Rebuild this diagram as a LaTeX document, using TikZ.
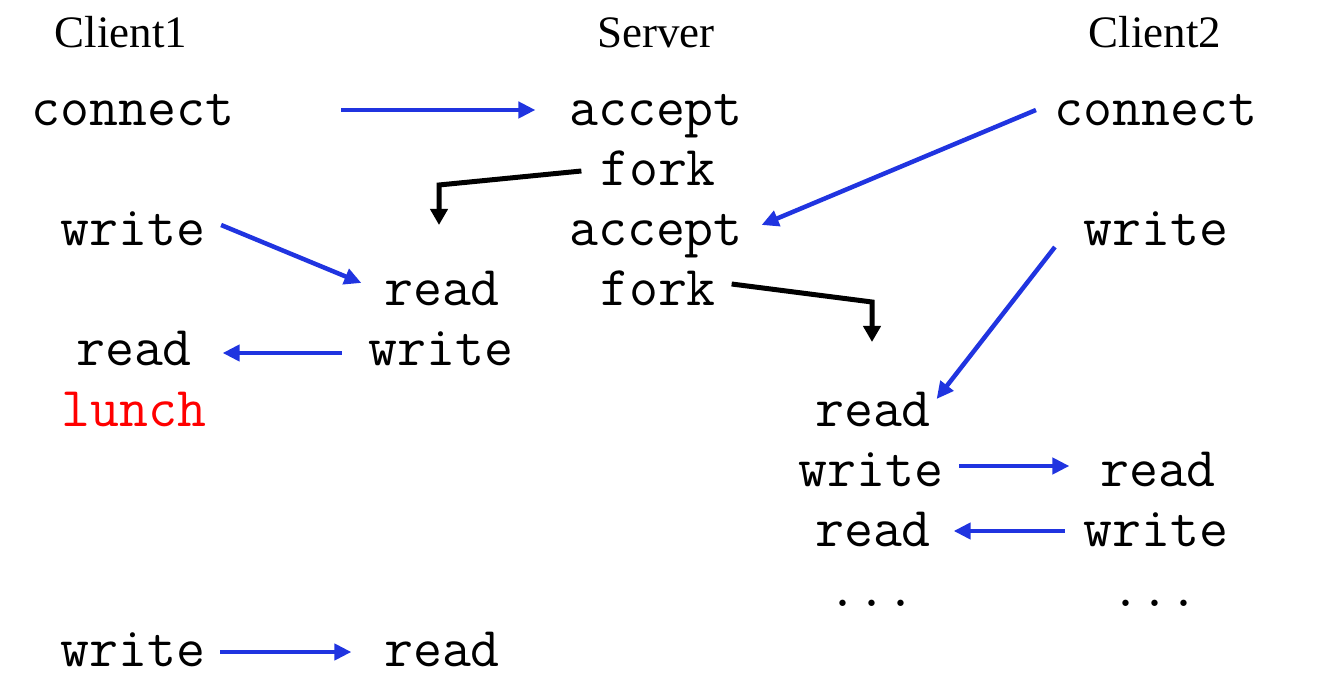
\documentclass[tikz,border=0pt]{standalone}
\usepackage{fontspec}
\setmainfont{Liberation Serif}
\usetikzlibrary{arrows.meta}
\definecolor{msgblue}{RGB}{32,52,224}
\tikzset{
  hdr/.style={font=\fontsize{12.8}{12.8}\selectfont, anchor=base, inner sep=0pt},
  mono/.style={font=\ttfamily\fontsize{16}{16}\selectfont, anchor=base, inner sep=0pt},
  msg/.style={draw=msgblue, line width=0.45mm, -{Triangle[length=1.7mm,width=1.6mm]}},
  forkline/.style={draw=black, line width=0.5mm, -{Triangle[length=1.6mm,width=1.7mm]}}
}
\begin{document}
\begin{tikzpicture}[x=0.1mm,y=-0.1mm]
\useasboundingbox (0,0) rectangle (1319,696);
\node[hdr] (hc1) at (121,48) {Client1};				%头
\node[hdr] (hsrv) at (656,48) {Server};
\node[hdr] (hc2) at (1155,48) {Client2};
\node[mono] (c1con) at (133,126) {connect};			%Client1
\node[mono] (c1wr) at (133,246) {write};
\node[mono] (c1read) at (134,366) {read};
\node[mono,red] (c1lunch) at (134,426) {lunch};
\node[mono] (c1wr2) at (133,666) {write};
\node[mono] (ch1read) at (442,306) {read};			%子进程1
\node[mono] (ch1wr) at (441,366) {write};
\node[mono] (ch1read2) at (442,666) {read};
\node[mono] (sacc1) at (656,126) {accept};			%Server
\node[mono] (sfork1) at (658,186) {fork};
\node[mono] (sacc2) at (656,246) {accept};
\node[mono] (sfork2) at (658,306) {fork};
\node[mono] (ch2read) at (873,426) {read};			%子进程2
\node[mono] (ch2wr) at (871,486) {write};
\node[mono] (ch2read2) at (873,546) {read};
\node[mono] (ch2dots) at (872,606) {...};
\node[mono] (c2con) at (1156,126) {connect};			%Client2
\node[mono] (c2wr) at (1156,246) {write};
\node[mono] (c2read) at (1158,486) {read};
\node[mono] (c2wr2) at (1156,546) {write};
\node[mono] (c2dots) at (1155,606) {...};
\draw[msg] ([xshift=10.6mm,yshift=1.6mm]c1con.base east) -- ([xshift=-3.3mm,yshift=1.6mm]sacc1.base west);
\draw[forkline] ([xshift=-1.8mm,yshift=1.5mm]sfork1.base west) -- ([xshift=-0.3mm,yshift=12.1mm]ch1read.base) -- ([xshift=-0.3mm,yshift=8.1mm]ch1read.base);
\draw[forkline] ([xshift=1.5mm,yshift=2.2mm]sfork2.base east) -- ([xshift=-0.1mm,yshift=12.4mm]ch2read.base) -- ([xshift=-0.1mm,yshift=8.4mm]ch2read.base);
\draw[msg] ([xshift=-1.8mm,yshift=1.6mm]c2con.base west) -- ([xshift=1.8mm,yshift=2.1mm]sacc2.base east);
\draw[msg] ([xshift=1.5mm,yshift=2.1mm]c1wr.base east) -- ([xshift=-2.2mm,yshift=2.3mm]ch1read.base west);
\draw[msg] ([xshift=-2.6mm,yshift=1.3mm]ch1wr.base west) -- ([xshift=3mm,yshift=1.3mm]c1read.base east);
\draw[msg] ([xshift=-2.8mm,yshift=-0.1mm]c2wr.base west) -- ([xshift=0.5mm,yshift=2.7mm]ch2read.base east);
\draw[msg] ([xshift=1.5mm,yshift=2mm]ch2wr.base east) -- ([xshift=-3mm,yshift=2mm]c2read.base west);
\draw[msg] ([xshift=-1.8mm,yshift=1.5mm]c2wr2.base west) -- ([xshift=2.2mm,yshift=1.5mm]ch2read2.base east);
\draw[msg] ([xshift=1.4mm,yshift=1.4mm]c1wr2.base east) -- ([xshift=-3.2mm,yshift=1.4mm]ch1read2.base west);
\end{tikzpicture}
\end{document}
